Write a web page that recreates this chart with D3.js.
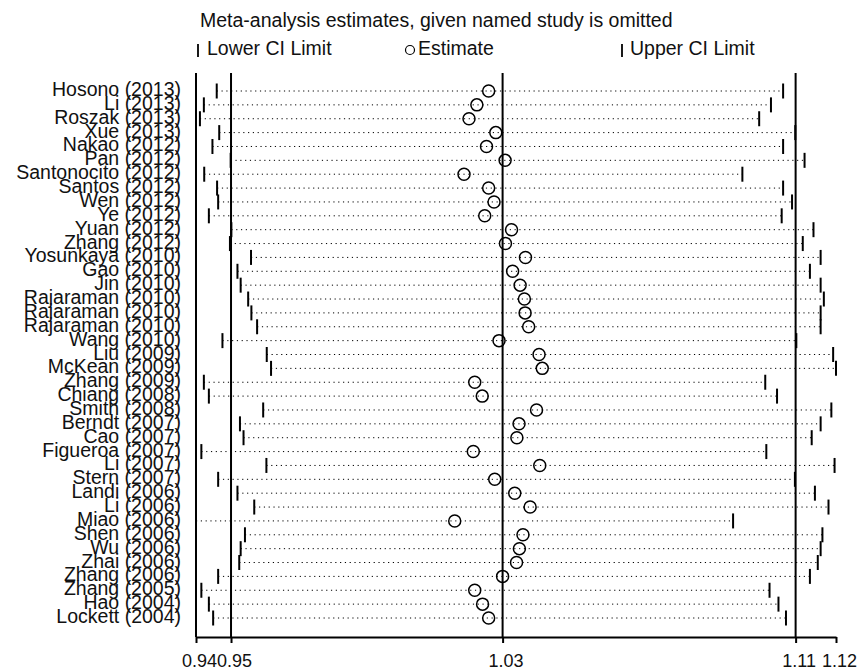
<!DOCTYPE html>
<html>
<head>
<meta charset="utf-8">
<script src="https://cdn.jsdelivr.net/npm/d3@7"></script>
<style>
  body { margin: 0; background: #fff; }
  text { font-family: "Liberation Sans", Arial, sans-serif; fill: #111; }
</style>
</head>
<body>
<div></div>
<script>
// study omitted in each row
const studies = ['Hosono (2013)', 'Li (2013)', 'Roszak (2013)', 'Xue (2013)', 'Nakao (2012)', 'Pan (2012)',
    'Santonocito (2012)', 'Santos (2012)', 'Wen (2012)', 'Ye (2012)', 'Yuan (2012)', 'Zhang (2012)',
    'Yosunkaya (2010)', 'Gao (2010)', 'Jin (2010)', 'Rajaraman (2010)', 'Rajaraman (2010)', 'Rajaraman (2010)',
    'Wang (2010)', 'Liu (2009)', 'McKean (2009)', 'Zhang (2009)', 'Chiang (2008)', 'Smith (2008)',
    'Berndt (2007)', 'Cao (2007)', 'Figueroa (2007)', 'Li (2007)', 'Stern (2007)', 'Landi (2006)',
    'Li (2006)', 'Miao (2006)', 'Shen (2006)', 'Wu (2006)', 'Zhai (2006)', 'Zhang (2006)',
    'Zhang (2005)', 'Hao (2004)', 'Lockett (2004)']

const lower = [0.9480, 0.9444, 0.9433, 0.9487, 0.9468, 0.9519, 0.9445, 0.9481, 0.9484, 0.9458, 0.9521, 0.9517,
    0.9576, 0.9538, 0.9547, 0.9568, 0.9577, 0.9593, 0.9496, 0.9620, 0.9632, 0.9444, 0.9458, 0.9610,
    0.9545, 0.9555, 0.9437, 0.9619, 0.9484, 0.9538, 0.9585, 0.9422, 0.9559, 0.9547, 0.9543, 0.9484,
    0.9437, 0.9458, 0.9470]

const estimate = [1.0241, 1.0208, 1.0186, 1.0261, 1.0235, 1.0287, 1.0172, 1.0241, 1.0256, 1.0230, 1.0305, 1.0288,
    1.0344, 1.0308, 1.0329, 1.0341, 1.0343, 1.0353, 1.0270, 1.0382, 1.0391, 1.0202, 1.0223, 1.0375,
    1.0326, 1.0320, 1.0198, 1.0384, 1.0258, 1.0314, 1.0357, 1.0146, 1.0337, 1.0327, 1.0319, 1.0280,
    1.0202, 1.0224, 1.0241]

const upper = [1.1065, 1.1031, 1.0998, 1.1099, 1.1065, 1.1125, 1.0951, 1.1065, 1.1090, 1.1061, 1.1150, 1.1120,
    1.1170, 1.1140, 1.1170, 1.1179, 1.1170, 1.1170, 1.1102, 1.1205, 1.1213, 1.1015, 1.1048, 1.1200,
    1.1170, 1.1145, 1.1018, 1.1209, 1.1098, 1.1154, 1.1192, 1.0925, 1.1175, 1.1170, 1.1162, 1.1140,
    1.1027, 1.1052, 1.1073]

// pooled estimate with all studies
const pooled = { lower: 0.9520, est: 1.0280, upper: 1.1100 }

const data = studies.map((s, i) => ({ name: s, lo: lower[i], est: estimate[i], hi: upper[i], i: i }))

const w = 858
const h = 671

const minX = d3.min(lower)
const maxX = d3.max(upper)
const xScale = d3.scaleLinear().domain([minX, maxX]).range([196, 836])
const yScale = d3.scaleLinear().domain([0, studies.length - 1]).range([91, 618])

const plotTop = 73
const plotBottom = 637

const svg = d3.select('div').append('svg')
    .attr('width', w)
    .attr('height', h)

// title and legend
svg.append('text')
    .attr('x', 200).attr('y', 27)
    .style('font-size', '19.5px')
    .text('Meta-analysis estimates, given named study is omitted')

const leg = svg.append('g')
leg.append('line').attr('x1', 198).attr('x2', 198).attr('y1', 44).attr('y2', 57)
    .attr('stroke', '#000').attr('stroke-width', 1.8)
leg.append('text').attr('x', 207).attr('y', 55).style('font-size', '19.5px').text('Lower CI Limit')
leg.append('circle').attr('cx', 410).attr('cy', 50).attr('r', 4.5)
    .attr('fill', 'none').attr('stroke', '#000').attr('stroke-width', 1.2)
leg.append('text').attr('x', 418).attr('y', 55).style('font-size', '19.5px').text('Estimate')
leg.append('line').attr('x1', 622).attr('x2', 622).attr('y1', 44).attr('y2', 57)
    .attr('stroke', '#000').attr('stroke-width', 1.8)
leg.append('text').attr('x', 630).attr('y', 55).style('font-size', '19.5px').text('Upper CI Limit')

// reference lines at pooled values
svg.selectAll('line.ref')
    .data([pooled.lower, pooled.est, pooled.upper])
    .enter()
    .append('line')
    .attr('class', 'ref')
    .attr('x1', (d) => xScale(d)).attr('x2', (d) => xScale(d))
    .attr('y1', plotTop).attr('y2', plotBottom)
    .attr('stroke', '#000').attr('stroke-width', 2)

// left axis line
svg.append('line')
    .attr('x1', xScale(minX)).attr('x2', xScale(minX))
    .attr('y1', plotTop).attr('y2', plotBottom)
    .attr('stroke', '#000').attr('stroke-width', 2)

// dotted CI lines
svg.selectAll('line.ci')
    .data(data)
    .enter()
    .append('line')
    .attr('class', 'ci')
    .attr('x1', (d) => xScale(d.lo)).attr('x2', (d) => xScale(d.hi))
    .attr('y1', (d) => yScale(d.i)).attr('y2', (d) => yScale(d.i))
    .attr('stroke', '#000').attr('stroke-width', 1)
    .attr('stroke-dasharray', '1.2,3.6')

// lower / upper limit markers
const caps = svg.append('g')
caps.selectAll('line.lo')
    .data(data)
    .enter()
    .append('line')
    .attr('x1', (d) => xScale(d.lo)).attr('x2', (d) => xScale(d.lo))
    .attr('y1', (d) => yScale(d.i) - 7.5).attr('y2', (d) => yScale(d.i) + 7.5)
    .attr('stroke', '#000').attr('stroke-width', 2)
caps.selectAll('line.hi')
    .data(data)
    .enter()
    .append('line')
    .attr('x1', (d) => xScale(d.hi)).attr('x2', (d) => xScale(d.hi))
    .attr('y1', (d) => yScale(d.i) - 7.5).attr('y2', (d) => yScale(d.i) + 7.5)
    .attr('stroke', '#000').attr('stroke-width', 2)

// estimates
svg.selectAll('circle.est')
    .data(data)
    .enter()
    .append('circle')
    .attr('class', 'est')
    .attr('cx', (d) => xScale(d.est))
    .attr('cy', (d) => yScale(d.i))
    .attr('r', 6)
    .attr('fill', 'none')
    .attr('stroke', '#000')
    .attr('stroke-width', 1.5)

// study labels
svg.selectAll('text.lab')
    .data(data)
    .enter()
    .append('text')
    .attr('class', 'lab')
    .attr('x', 181)
    .attr('y', (d) => yScale(d.i) + 5)
    .attr('text-anchor', 'end')
    .style('font-size', '19.5px')
    .text((d) => d.name)

// x axis
const xAxis = d3.axisBottom(xScale)
    .tickValues([minX, pooled.lower, pooled.est, pooled.upper, maxX])
    .tickFormat(d3.format('.2f'))
    .tickSize(6)
    .tickSizeOuter(0)

const ax = svg.append('g')
    .attr('transform', `translate(0,${plotBottom})`)
    .call(xAxis)
ax.select('.domain').attr('stroke', '#000').attr('stroke-width', 2)
ax.selectAll('.tick line').attr('stroke', '#000').attr('stroke-width', 2)
ax.selectAll('.tick text')
    .attr('dy', 0).attr('y', 30).attr('dx', 3)
    .style('font-size', '18px')
    .style('font-family', '"Liberation Sans", Arial, sans-serif')
    .attr('fill', '#111')
</script>
</body>
</html>
